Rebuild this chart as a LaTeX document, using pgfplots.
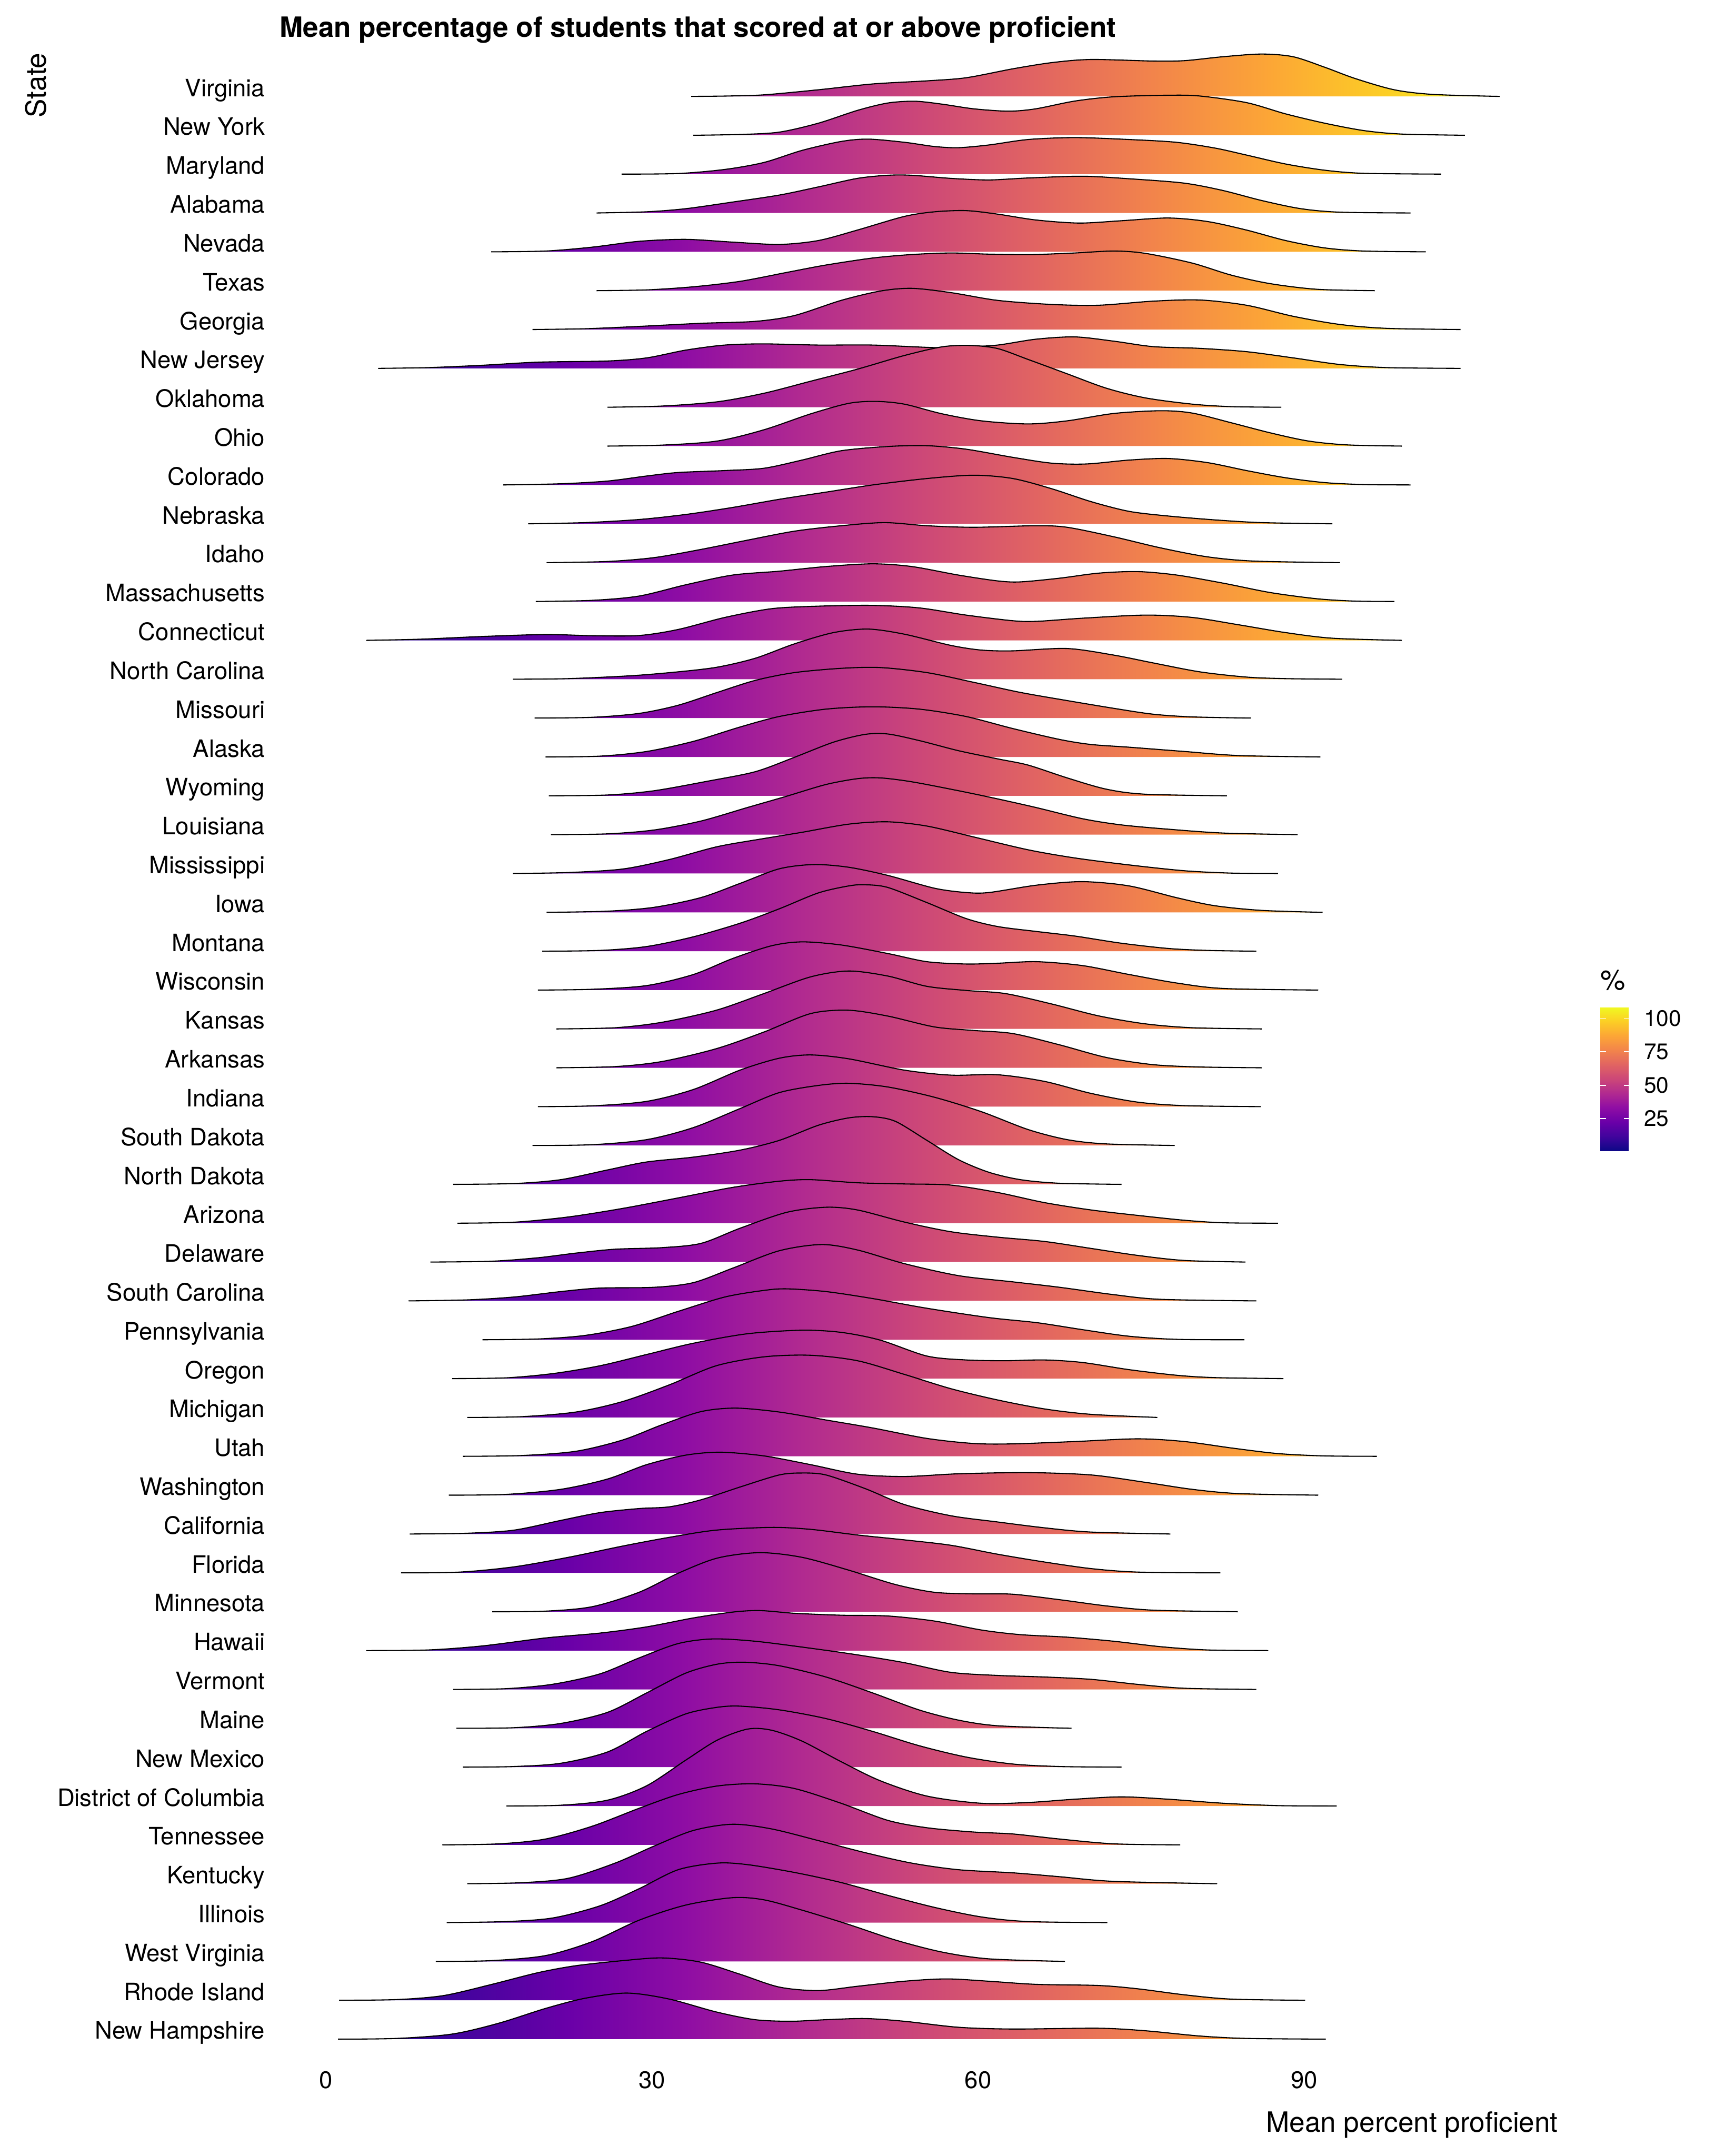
\documentclass[border=0pt]{standalone}
\usepackage{pgfplots}
\pgfplotsset{compat=1.18}
\usepackage{pgfplotstable}
\usepackage{fontspec}
\setmainfont{TeX Gyre Heros}

\definecolor{pl0}{RGB}{13,8,135}
\definecolor{pl1}{RGB}{65,4,157}
\definecolor{pl2}{RGB}{106,0,168}
\definecolor{pl3}{RGB}{143,13,164}
\definecolor{pl4}{RGB}{177,42,144}
\definecolor{pl5}{RGB}{204,71,120}
\definecolor{pl6}{RGB}{225,100,98}
\definecolor{pl7}{RGB}{242,132,75}
\definecolor{pl8}{RGB}{252,166,54}
\definecolor{pl9}{RGB}{252,206,37}
\definecolor{pl10}{RGB}{240,249,33}
\pgfdeclarehorizontalshading{plasmaH}{100bp}{color(0bp)=(pl0); color(25bp)=(pl0); color(30bp)=(pl1); color(35bp)=(pl2); color(40bp)=(pl3); color(45bp)=(pl4); color(50bp)=(pl5); color(55bp)=(pl6); color(60bp)=(pl7); color(65bp)=(pl8); color(70bp)=(pl9); color(75bp)=(pl10); color(100bp)=(pl10)}
\pgfplotsset{colormap={plasma}{rgb255=(13,8,135) rgb255=(65,4,157) rgb255=(106,0,168) rgb255=(143,13,164) rgb255=(177,42,144) rgb255=(204,71,120) rgb255=(225,100,98) rgb255=(242,132,75) rgb255=(252,166,54) rgb255=(252,206,37) rgb255=(240,249,33)}}

\pgfplotstableread{
x h
33.6 0
37.0 0.01
40.3 0.04
45.3 0.17
50.3 0.32
55.3 0.40
58.9 0.48
63.2 0.71
66.8 0.87
70.4 0.95
76.1 0.91
79.0 0.92
82.5 1.02
86.1 1.09
89.0 1.02
91.9 0.75
94.7 0.46
98.3 0.17
101.9 0.05
108.0 0
}\tVA
\pgfplotstableread{
x h
33.8 0
38.1 0.02
41.7 0.08
45.3 0.31
48.9 0.64
51.7 0.83
54.2 0.875
56.7 0.80
59.6 0.68
62.8 0.62
65.3 0.68
68.9 0.88
72.5 0.99
77.5 1.03
80.4 1.01
84.7 0.84
88.3 0.55
91.9 0.31
95.5 0.12
99.0 0.03
104.8 0
}\tNY
\pgfplotstableread{
x h
27.2 0
32.4 0.015
36.7 0.12
40.3 0.30
43.8 0.61
47.4 0.84
49.9 0.90
53.2 0.82
56.0 0.71
58.2 0.68
61.0 0.75
64.6 0.89
68.9 0.94
73.9 0.89
78.2 0.82
81.8 0.67
84.7 0.49
88.3 0.26
91.9 0.10
95.5 0.02
102.6 0
}\tMD
\pgfplotstableread{
x h
24.9 0
29.5 0.03
33.1 0.11
37.4 0.28
41.7 0.46
45.3 0.67
48.9 0.89
51.7 0.97
53.9 0.97
57.5 0.89
61.0 0.85
64.6 0.90
69.6 0.945
73.9 0.88
78.9 0.77
82.5 0.58
86.1 0.32
89.7 0.11
93.3 0.02
99.8 0
}\tAL
\pgfplotstableread{
x h
15.2 0
20.2 0.02
24.5 0.12
28.8 0.27
33.1 0.32
37.4 0.25
41.7 0.19
45.3 0.29
48.9 0.56
53.2 0.91
56.0 1.03
58.9 1.06
61.8 0.97
65.3 0.82
69.3 0.74
73.2 0.80
77.5 0.87
81.1 0.78
84.7 0.56
88.3 0.29
91.9 0.10
95.5 0.02
101.2 0
}\tNV
\pgfplotstableread{
x h
24.9 0
29.5 0.02
33.8 0.10
38.1 0.24
42.4 0.47
46.0 0.66
50.3 0.84
53.9 0.93
57.5 0.97
61.0 0.94
65.0 0.93
68.9 0.97
72.5 1.02
75.4 0.96
79.7 0.71
83.3 0.40
86.9 0.18
91.2 0.035
96.5 0
}\tTX
\pgfplotstableread{
x h
19.0 0
23.8 0.02
28.8 0.08
34.5 0.16
39.5 0.21
43.1 0.36
47.4 0.75
51.0 0.99
53.9 1.06
57.5 0.95
61.8 0.75
66.8 0.645
71.1 0.625
76.1 0.73
80.4 0.76
84.7 0.625
89.0 0.34
93.3 0.13
97.6 0.03
104.4 0
}\tGA
\pgfplotstableread{
x h
4.8 0
9.4 0.02
14.4 0.08
19.5 0.16
25.9 0.19
29.5 0.27
33.1 0.47
36.7 0.60
40.3 0.63
45.3 0.60
50.3 0.60
56.0 0.535
58.9 0.555
61.8 0.60
65.3 0.75
68.9 0.81
72.5 0.70
76.1 0.56
80.4 0.515
84.7 0.43
89.0 0.27
93.3 0.10
97.6 0.02
104.4 0
}\tNJ
\pgfplotstableread{
x h
25.9 0
30.9 0.03
36.0 0.14
40.3 0.36
44.6 0.67
48.9 0.98
53.2 1.33
56.7 1.555
59.3 1.59
61.8 1.51
64.6 1.23
68.2 0.86
71.8 0.49
75.4 0.24
79.7 0.08
83.3 0.015
87.9 0
}\tOK
\pgfplotstableread{
x h
25.9 0
30.9 0.025
36.0 0.13
40.3 0.42
44.6 0.83
48.1 1.10
50.6 1.15
53.2 1.08
56.7 0.83
60.3 0.65
64.6 0.57
68.2 0.65
72.5 0.84
76.8 0.91
79.7 0.85
83.3 0.60
86.9 0.34
90.4 0.13
94.0 0.03
99.0 0
}\tOH
\pgfplotstableread{
x h
16.3 0
21.6 0.03
25.9 0.10
29.5 0.23
32.4 0.32
36.7 0.37
40.3 0.43
43.8 0.64
47.4 0.88
51.7 0.99
55.3 1.01
58.9 0.92
63.2 0.71
66.8 0.56
70.0 0.54
73.9 0.64
77.5 0.68
81.1 0.575
84.7 0.37
88.3 0.185
91.9 0.06
95.5 0.01
99.8 0
}\tCO
\pgfplotstableread{
x h
18.6 0
23.8 0.03
28.8 0.11
33.1 0.24
37.4 0.42
41.7 0.63
46.0 0.815
50.3 1.00
55.3 1.165
59.6 1.25
63.2 1.165
66.8 0.90
70.4 0.57
73.9 0.32
77.5 0.20
81.8 0.10
86.1 0.03
92.6 0
}\tNE
\pgfplotstableread{
x h
20.3 0
25.9 0.03
30.2 0.13
34.5 0.34
38.8 0.58
43.1 0.81
47.4 0.95
51.4 1.03
55.3 0.95
59.6 0.91
65.3 0.95
68.2 0.91
72.5 0.665
76.8 0.38
81.1 0.15
85.4 0.04
93.3 0
}\tID
\pgfplotstableread{
x h
19.3 0
24.5 0.03
28.8 0.14
33.1 0.43
37.4 0.68
41.7 0.78
46.0 0.90
50.3 0.97
53.9 0.90
58.2 0.68
61.8 0.53
63.9 0.505
67.5 0.60
71.1 0.73
74.7 0.77
78.3 0.68
82.6 0.47
86.9 0.23
91.2 0.07
94.7 0.01
98.3 0
}\tMA
\pgfplotstableread{
x h
3.7 0
8.7 0.03
14.4 0.10
20.2 0.15
24.5 0.12
28.8 0.125
32.4 0.28
36.7 0.59
41.0 0.815
45.3 0.88
50.3 0.90
54.6 0.835
58.9 0.65
63.2 0.505
65.4 0.49
69.6 0.57
75.4 0.65
79.7 0.59
84.0 0.40
88.3 0.20
92.6 0.055
99.0 0
}\tCT
\pgfplotstableread{
x h
17.2 0
22.3 0.015
28.1 0.09
32.4 0.19
36.0 0.31
39.5 0.54
43.1 0.91
46.7 1.20
49.9 1.29
53.2 1.16
57.5 0.87
60.3 0.75
63.2 0.73
68.2 0.79
72.5 0.62
76.1 0.42
80.4 0.19
84.7 0.055
88.3 0.015
93.5 0
}\tNC
\pgfplotstableread{
x h
19.2 0
24.5 0.02
28.8 0.12
32.4 0.33
36.0 0.66
39.5 0.97
43.1 1.17
47.4 1.28
51.0 1.30
55.3 1.17
59.6 0.92
63.9 0.66
68.2 0.45
72.5 0.25
76.1 0.10
79.7 0.03
85.1 0
}\tMO
\pgfplotstableread{
x h
20.2 0
25.2 0.02
29.5 0.14
33.8 0.40
38.1 0.77
41.7 1.04
46.0 1.23
50.3 1.29
54.6 1.23
58.9 1.04
63.2 0.73
67.5 0.45
70.4 0.32
73.9 0.25
79.0 0.14
84.0 0.035
91.5 0
}\tAK
\pgfplotstableread{
x h
20.5 0
25.9 0.02
30.2 0.13
35.2 0.38
39.5 0.62
43.1 0.99
46.7 1.38
49.6 1.58
51.7 1.59
54.6 1.42
58.2 1.16
61.8 0.95
64.6 0.79
68.2 0.46
71.8 0.17
75.4 0.04
82.9 0
}\tWY
\pgfplotstableread{
x h
20.7 0
25.9 0.02
30.2 0.12
34.5 0.35
38.8 0.70
42.4 0.99
46.0 1.29
48.9 1.44
51.0 1.46
53.9 1.36
58.2 1.13
61.8 0.92
65.3 0.70
69.6 0.41
73.2 0.25
77.5 0.14
82.6 0.04
89.4 0
}\tLA
\pgfplotstableread{
x h
17.2 0
22.3 0.025
27.3 0.115
31.6 0.36
36.0 0.69
40.3 0.90
43.8 1.06
48.1 1.27
51.7 1.33
55.3 1.22
59.6 0.94
64.6 0.61
68.9 0.40
73.9 0.22
79.0 0.07
83.3 0.01
87.6 0
}\tMS
\pgfplotstableread{
x h
20.3 0
25.9 0.03
30.2 0.13
34.5 0.38
38.1 0.745
41.7 1.12
44.9 1.23
48.1 1.16
51.7 0.95
56.0 0.62
58.9 0.51
61.0 0.51
65.4 0.70
69.6 0.79
73.9 0.68
78.3 0.375
81.8 0.17
86.1 0.05
91.7 0
}\tIA
\pgfplotstableread{
x h
19.9 0
25.2 0.02
29.5 0.12
33.8 0.37
38.1 0.72
41.7 1.09
45.3 1.50
48.1 1.68
49.6 1.71
51.7 1.64
55.3 1.25
58.9 0.84
61.8 0.635
65.3 0.51
68.9 0.39
73.2 0.205
77.5 0.07
81.1 0.02
85.6 0
}\tMT
\pgfplotstableread{
x h
19.5 0
24.5 0.02
29.5 0.115
33.8 0.40
37.4 0.81
41.0 1.14
43.8 1.24
47.4 1.16
51.7 0.94
55.3 0.73
58.9 0.67
61.8 0.69
65.4 0.73
69.6 0.63
73.9 0.40
78.3 0.18
82.6 0.04
91.3 0
}\tWI
\pgfplotstableread{
x h
21.2 0
26.6 0.03
30.9 0.17
35.9 0.48
40.3 0.91
44.6 1.34
48.1 1.49
51.7 1.36
55.3 1.095
58.9 0.99
62.5 0.91
66.8 0.64
71.1 0.335
75.4 0.13
79.7 0.03
86.1 0
}\tKS
\pgfplotstableread{
x h
21.2 0
26.6 0.03
30.9 0.16
35.9 0.49
40.3 0.92
44.6 1.395
48.1 1.48
51.7 1.33
56.0 1.05
59.6 0.96
63.2 0.88
67.5 0.59
71.8 0.265
76.1 0.08
80.4 0.02
86.1 0
}\tAR
\pgfplotstableread{
x h
19.5 0
24.5 0.02
29.5 0.135
33.8 0.44
38.1 0.94
41.7 1.245
44.6 1.33
48.1 1.23
53.2 0.94
57.5 0.81
61.8 0.82
66.1 0.65
70.4 0.34
74.7 0.115
79.0 0.025
86.0 0
}\tIN
\pgfplotstableread{
x h
19.0 0
24.5 0.02
29.5 0.15
33.8 0.46
38.1 0.95
41.7 1.36
45.3 1.545
48.1 1.60
51.7 1.505
56.0 1.24
60.3 0.87
64.6 0.41
68.2 0.15
71.8 0.04
78.1 0
}\tSD
\pgfplotstableread{
x h
11.7 0
17.3 0.02
21.6 0.12
25.9 0.37
29.5 0.575
33.8 0.70
38.1 0.88
41.7 1.13
45.3 1.52
48.1 1.71
50.3 1.74
52.4 1.62
55.3 1.13
58.2 0.635
61.0 0.31
63.9 0.12
67.5 0.027
73.2 0
}\tND
\pgfplotstableread{
x h
12.1 0
17.3 0.025
22.3 0.16
27.3 0.38
32.4 0.65
37.4 0.92
41.7 1.08
44.6 1.12
48.9 1.04
53.2 1.01
57.5 0.98
61.8 0.79
66.1 0.53
70.4 0.34
74.7 0.20
79.0 0.075
82.6 0.01
87.6 0
}\tAZ
\pgfplotstableread{
x h
9.6 0
15.2 0.02
19.5 0.11
23.0 0.23
26.6 0.33
30.9 0.37
34.5 0.48
38.1 0.87
42.4 1.28
46.0 1.41
48.9 1.34
53.2 1.03
57.5 0.78
61.8 0.64
66.1 0.53
70.4 0.35
74.7 0.17
79.0 0.04
84.6 0
}\tDE
\pgfplotstableread{
x h
7.6 0
13.0 0.026
17.3 0.10
21.6 0.24
25.2 0.33
30.2 0.35
33.8 0.47
37.4 0.84
41.7 1.29
45.6 1.45
48.9 1.31
53.2 0.96
58.2 0.65
63.2 0.49
67.5 0.35
72.5 0.16
76.8 0.04
85.6 0
}\tSC
\pgfplotstableread{
x h
14.4 0
19.5 0.02
23.8 0.11
28.1 0.34
32.4 0.73
36.7 1.10
40.3 1.27
42.4 1.31
46.0 1.24
50.3 1.06
55.3 0.81
61.0 0.57
65.4 0.44
69.6 0.26
73.9 0.09
78.3 0.01
84.5 0
}\tPA
\pgfplotstableread{
x h
11.6 0
16.6 0.02
20.9 0.13
25.2 0.33
29.5 0.62
33.8 0.91
38.8 1.155
43.8 1.245
47.4 1.19
51.0 0.99
55.3 0.58
58.9 0.48
62.5 0.46
66.1 0.48
69.6 0.415
73.9 0.23
78.3 0.085
81.8 0.025
88.1 0
}\tOR
\pgfplotstableread{
x h
13.0 0
18.0 0.02
23.0 0.14
27.3 0.41
31.6 0.84
35.9 1.33
40.3 1.56
44.6 1.60
48.9 1.46
53.2 1.11
57.5 0.74
61.8 0.45
66.1 0.22
70.4 0.08
76.5 0
}\tMI
\pgfplotstableread{
x h
12.6 0
18.0 0.02
23.0 0.13
27.3 0.42
30.9 0.81
34.5 1.15
37.7 1.24
41.7 1.14
46.0 0.935
50.3 0.73
55.3 0.46
59.6 0.33
63.2 0.32
68.9 0.38
74.7 0.45
79.0 0.38
83.3 0.215
87.6 0.07
91.9 0.01
96.7 0
}\tUT
\pgfplotstableread{
x h
11.3 0
16.6 0.02
21.6 0.15
25.9 0.415
29.5 0.785
33.1 1.03
36.3 1.105
40.3 1.01
44.6 0.785
48.9 0.54
53.2 0.48
58.2 0.55
64.6 0.58
70.4 0.52
75.4 0.33
79.7 0.15
84.0 0.04
91.3 0
}\tWA
\pgfplotstableread{
x h
7.7 0
13.0 0.02
17.3 0.10
21.6 0.35
25.2 0.55
28.8 0.655
31.6 0.70
34.5 0.88
38.1 1.21
41.7 1.52
43.8 1.57
46.0 1.52
49.6 1.17
53.2 0.76
57.5 0.47
61.8 0.31
66.1 0.16
70.4 0.05
77.7 0
}\tCA
\pgfplotstableread{
x h
6.9 0
12.3 0.02
17.3 0.155
22.3 0.40
27.3 0.69
31.6 0.915
35.9 1.10
41.0 1.17
44.6 1.12
48.9 0.975
53.2 0.85
57.5 0.71
61.8 0.48
66.1 0.28
70.4 0.11
74.7 0.02
82.3 0
}\tFL
\pgfplotstableread{
x h
15.3 0
20.2 0.015
24.5 0.13
28.8 0.50
32.4 0.99
36.0 1.38
39.9 1.52
43.8 1.40
48.1 1.07
52.4 0.70
56.0 0.50
59.6 0.46
63.2 0.45
67.5 0.31
71.8 0.15
76.1 0.04
83.9 0
}\tMN
\pgfplotstableread{
x h
3.7 0
9.4 0.016
14.4 0.12
20.2 0.325
25.2 0.45
29.5 0.61
33.8 0.84
37.4 0.99
39.9 1.03
43.1 0.96
47.4 0.91
51.7 0.89
56.0 0.76
60.3 0.53
63.9 0.41
68.2 0.345
72.5 0.24
76.8 0.10
81.1 0.016
86.7 0
}\tHI
\pgfplotstableread{
x h
11.7 0
16.6 0.02
20.9 0.135
25.2 0.40
28.8 0.81
32.4 1.18
35.6 1.30
39.5 1.24
44.6 1.06
48.9 0.89
53.2 0.69
57.5 0.44
61.8 0.36
66.1 0.32
70.4 0.26
74.7 0.13
79.0 0.03
85.6 0
}\tVT
\pgfplotstableread{
x h
12.0 0
17.3 0.015
21.6 0.125
25.9 0.41
29.5 0.91
33.1 1.42
36.0 1.65
38.5 1.70
41.7 1.61
46.0 1.32
50.3 0.91
54.6 0.47
58.2 0.21
61.8 0.065
68.6 0
}\tME
\pgfplotstableread{
x h
12.6 0
17.3 0.016
21.6 0.10
25.9 0.39
29.5 0.92
33.1 1.37
36.0 1.54
38.1 1.57
41.7 1.475
46.0 1.25
50.3 0.92
54.6 0.55
58.9 0.26
63.2 0.08
67.5 0.016
73.2 0
}\tNM
\pgfplotstableread{
x h
16.6 0
21.6 0.02
25.9 0.15
29.5 0.52
33.1 1.18
36.0 1.695
38.8 1.98
41.0 1.95
43.8 1.67
47.4 1.14
51.0 0.65
55.3 0.255
60.3 0.07
64.6 0.09
68.9 0.175
73.2 0.235
77.5 0.175
82.6 0.07
87.6 0.01
93.0 0
}\tDC
\pgfplotstableread{
x h
10.7 0
15.9 0.026
20.2 0.15
24.5 0.48
28.8 0.94
32.4 1.295
36.0 1.515
39.5 1.57
43.1 1.45
47.4 1.07
51.7 0.63
55.3 0.44
59.6 0.33
63.2 0.28
67.5 0.15
72.5 0.026
78.6 0
}\tTN
\pgfplotstableread{
x h
13.0 0
18.0 0.026
22.3 0.14
26.6 0.53
30.2 0.97
33.8 1.37
37.4 1.53
41.0 1.41
45.3 1.11
49.6 0.80
53.9 0.53
58.2 0.36
63.2 0.28
67.5 0.18
72.5 0.06
82.0 0
}\tKY
\pgfplotstableread{
x h
11.1 0
16.6 0.026
20.9 0.12
25.2 0.43
28.8 0.87
32.4 1.36
36.0 1.53
38.8 1.49
43.1 1.29
47.4 1.03
51.7 0.70
56.0 0.39
60.3 0.145
64.6 0.026
71.9 0
}\tIL
\pgfplotstableread{
x h
10.1 0
15.2 0.02
20.2 0.15
24.5 0.51
28.8 1.06
33.1 1.45
37.4 1.64
40.3 1.585
43.8 1.32
48.1 0.95
52.4 0.55
56.7 0.24
61.0 0.066
68.0 0
}\tWV
\pgfplotstableread{
x h
1.2 0
6.5 0.018
10.8 0.12
15.2 0.405
19.5 0.71
23.0 0.89
27.3 1.02
30.9 1.09
34.5 0.98
38.1 0.67
41.7 0.34
45.3 0.25
48.9 0.36
53.2 0.49
57.1 0.55
61.0 0.49
65.3 0.41
71.1 0.38
74.7 0.295
79.0 0.14
83.3 0.03
90.1 0
}\tRI
\pgfplotstableread{
x h
1.1 0
6.5 0.018
11.6 0.13
15.9 0.41
20.2 0.79
23.8 1.05
27.7 1.185
31.6 1.03
35.9 0.70
39.5 0.50
42.8 0.46
46.0 0.50
49.6 0.53
53.2 0.46
58.2 0.305
63.2 0.26
71.1 0.28
75.4 0.215
80.4 0.08
84.7 0.018
92.0 0
}\tNH

% fill: the two trailing move-tos only stretch the path's bounding box to the
% colour range (0.9 .. 108.3), so that the horizontal shading maps x to colour
\newcommand{\ridge}[2]{%
  \addplot[draw=none, shade, shading=plasmaH, smooth] table[x=x, y expr=\thisrow{h}+#1] {#2} (108.3,#1) (0.9,#1);
  \addplot[black, line width=0.55pt, smooth] table[x=x, y expr=\thisrow{h}+#1] {#2};
}

\begin{document}
\begin{tikzpicture}
\path[use as bounding box] (-139.9pt,-56.6pt) rectangle (724.1pt,1023.4pt);
\begin{axis}[
  at={(0,0)}, anchor=south west,
  scale only axis, width=640.7pt, height=997.1pt,
  xmin=-4.3, xmax=113.4, ymin=-0.1, ymax=51.13,
  clip=false,
  axis line style={draw=none},
  major tick length=0pt, tick style={draw=none},
  xtick={0,30,60,90}, xticklabels={0,30,60,90},
  ytick={0,...,50},
  yticklabels={New Hampshire, Rhode Island, West Virginia, Illinois, Kentucky, Tennessee, District of Columbia, New Mexico, Maine, Vermont, Hawaii, Minnesota, Florida, California, Washington, Utah, Michigan, Oregon, Pennsylvania, South Carolina, Delaware, Arizona, North Dakota, South Dakota, Indiana, Arkansas, Kansas, Wisconsin, Montana, Iowa, Mississippi, Louisiana, Wyoming, Alaska, Missouri, North Carolina, Connecticut, Massachusetts, Idaho, Nebraska, Colorado, Ohio, Oklahoma, New Jersey, Georgia, Texas, Nevada, Alabama, Maryland, New York, Virginia},
  yticklabel style={font=\fontsize{12}{14.4}\selectfont, anchor=base east, inner sep=0pt, xshift=-7pt},
  xticklabel style={font=\fontsize{12}{14.4}\selectfont, anchor=north, inner sep=0pt, yshift=-14.1pt},
  colormap name=plasma,
  point meta min=0.9, point meta max=108.3,
  colorbar,
  colorbar shift/.style={},
  colorbar style={
    at={(parent axis.south east)}, anchor=south west,
    xshift=21pt, yshift=446.9pt,
    scale only axis, width=14.6pt, height=72pt,
    axis line style={draw=none},
    ytick={25,50,75,100}, yticklabels={25,50,75,100},
    yticklabel pos=right, ytick pos=both,
    ytick align=inside,
    major tick length=2.9pt,
    every tick/.style={draw=white, line width=0.5pt},
    every y tick label/.style={font=\fontsize{11.2}{13.4}\selectfont, anchor=west, inner sep=0pt, xshift=7.1pt},
    title={\%},
    every axis title/.style={at={(0,1)}, anchor=base west, inner sep=0pt, yshift=8.7pt, font=\fontsize{14}{16.8}\selectfont},
  },
]
\ridge{50}{\tVA}
\ridge{49}{\tNY}
\ridge{48}{\tMD}
\ridge{47}{\tAL}
\ridge{46}{\tNV}
\ridge{45}{\tTX}
\ridge{44}{\tGA}
\ridge{43}{\tNJ}
\ridge{42}{\tOK}
\ridge{41}{\tOH}
\ridge{40}{\tCO}
\ridge{39}{\tNE}
\ridge{38}{\tID}
\ridge{37}{\tMA}
\ridge{36}{\tCT}
\ridge{35}{\tNC}
\ridge{34}{\tMO}
\ridge{33}{\tAK}
\ridge{32}{\tWY}
\ridge{31}{\tLA}
\ridge{30}{\tMS}
\ridge{29}{\tIA}
\ridge{28}{\tMT}
\ridge{27}{\tWI}
\ridge{26}{\tKS}
\ridge{25}{\tAR}
\ridge{24}{\tIN}
\ridge{23}{\tSD}
\ridge{22}{\tND}
\ridge{21}{\tAZ}
\ridge{20}{\tDE}
\ridge{19}{\tSC}
\ridge{18}{\tPA}
\ridge{17}{\tOR}
\ridge{16}{\tMI}
\ridge{15}{\tUT}
\ridge{14}{\tWA}
\ridge{13}{\tCA}
\ridge{12}{\tFL}
\ridge{11}{\tMN}
\ridge{10}{\tHI}
\ridge{9}{\tVT}
\ridge{8}{\tME}
\ridge{7}{\tNM}
\ridge{6}{\tDC}
\ridge{5}{\tTN}
\ridge{4}{\tKY}
\ridge{3}{\tIL}
\ridge{2}{\tWV}
\ridge{1}{\tRI}
\ridge{0}{\tNH}
\node[anchor=base west, inner sep=0pt, yshift=7.8pt, font=\bfseries\fontsize{14}{16.8}\selectfont] at (rel axis cs:0,1) {Mean percentage of students that scored at or above proficient};
\node[anchor=base east, inner sep=0pt, yshift=-44.6pt, font=\fontsize{14}{16.8}\selectfont] at (rel axis cs:1,0) {Mean percent proficient};
\node[xshift=-116.9pt, rotate=90, anchor=base east, inner sep=0pt, font=\fontsize{14}{16.8}\selectfont] at (rel axis cs:0,1) {State};
\end{axis}
\end{tikzpicture}
\end{document}
